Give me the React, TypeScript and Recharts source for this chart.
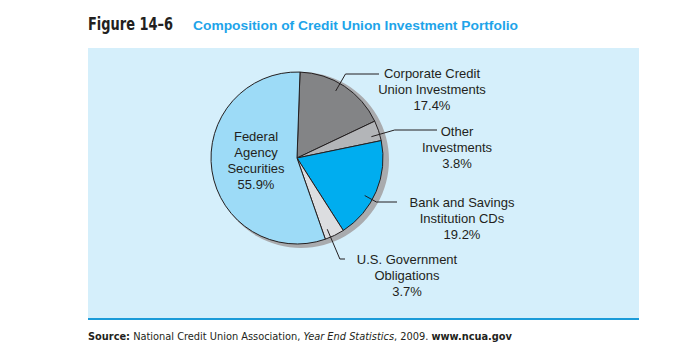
import { PieChart, Pie, Cell } from "recharts";

const names = [
  "Corporate Credit Union Investments",
  "Other Investments",
  "Bank and Savings Institution CDs",
  "U.S. Government Obligations",
  "Federal Agency Securities",
];
const shares = [17.4, 3.8, 19.2, 3.7, 55.9];
const labelLines = [
  ["Corporate Credit", "Union Investments", "17.4%"],
  ["Other", "Investments", "3.8%"],
  ["Bank and Savings", "Institution CDs", "19.2%"],
  ["U.S. Government", "Obligations", "3.7%"],
  ["Federal", "Agency", "Securities", "55.9%"],
];
const COLORS = ["#838486", "#b3b5b8", "#00adef", "#dcdde0", "#9ddbf7"];

// label placement, offsets relative to pie centre
const labelLayout = [
  { tx: 135, ty: -80, angle: 30, elbowY: -84, endX: 82 },
  { tx: 160, ty: -22, angle: 74, elbowY: -28, endX: 140 },
  { tx: 165, ty: 49, angle: 119, elbowY: 44, endX: 100 },
  { tx: 110, ty: 106, angle: 157, elbowY: 101, endX: 48 },
  { tx: -41, ty: -17, angle: null, elbowY: 0, endX: 0 },
];

const data = names.map((name, i) => ({ name, value: shares[i] }));
const shadow = [{ name: "shadow", value: 1 }];

const CX = 297;
const CY = 158;
const R = 86;
const INK = "#231f20";
const FONT = "'Liberation Sans', Arial, sans-serif";
const NARROW = "'Liberation Sans Narrow', 'DejaVu Sans Condensed', sans-serif";

function renderLabel(props: any) {
  const { cx, cy, outerRadius, index } = props;
  const lay = labelLayout[index];
  const lines = labelLines[index];
  let leader = null;
  if (lay.angle !== null) {
    const a = (lay.angle * Math.PI) / 180;
    const sx = cx + outerRadius * 0.9 * Math.sin(a);
    const sy = cy - outerRadius * 0.9 * Math.cos(a);
    const ey = cy + lay.elbowY;
    // where the leader's ray crosses the label's line height
    const ex = cx + Math.tan(a) * -lay.elbowY;
    leader = (
      <polyline
        points={`${sx},${sy} ${ex},${ey} ${cx + lay.endX},${ey}`}
        fill="none"
        stroke={INK}
        strokeWidth={1}
      />
    );
  }
  return (
    <g key={`lbl-${index}`}>
      {leader}
      <text
        x={cx + lay.tx}
        y={cy + lay.ty}
        textAnchor="middle"
        fill={INK}
        fontSize={13}
        fontFamily={FONT}>
        {lines.map((t, j) => (
          <tspan key={j} x={cx + lay.tx} dy={j === 0 ? 0 : 16}>
            {t}
          </tspan>
        ))}
      </text>
    </g>
  );
}

export default function App() {
  return (
    <div
      style={{
        position: "absolute",
        left: 0,
        top: 0,
        width: 696,
        height: 363,
        background: "#fff",
      }}>
      {/* panel */}
      <div
        style={{
          position: "absolute",
          left: 88,
          top: 48,
          width: 551,
          height: 270,
          background: "#d5effb",
          borderBottom: "2px solid #1b9bd8",
        }}
      />
      <svg
        width={696}
        height={363}
        style={{ position: "absolute", left: 0, top: 0 }}>
        <text
          x={88}
          y={30}
          fontSize={18}
          fontWeight="bold"
          fontFamily={NARROW}
          fill={INK}
          textLength={85}
          lengthAdjust="spacingAndGlyphs">
          Figure 14–6
        </text>
        <text
          x={193}
          y={30}
          fontSize={13.5}
          fontWeight="bold"
          fontFamily={FONT}
          fill="#1ea4e9"
          textLength={325}
          lengthAdjust="spacingAndGlyphs">
          Composition of Credit Union Investment Portfolio
        </text>
        <text
          x={88}
          y={340}
          fontSize={11}
          fontFamily={NARROW}
          fill={INK}
          textLength={424}
          lengthAdjust="spacingAndGlyphs">
          <tspan fontWeight="bold">Source:</tspan>
          <tspan> National Credit Union Association, </tspan>
          <tspan fontStyle="italic">Year End Statistics</tspan>
          <tspan>, 2009. </tspan>
          <tspan fontWeight="bold">www.ncua.gov</tspan>
        </text>
      </svg>
      <div style={{ position: "absolute", left: 0, top: 0 }}>
        <PieChart
          width={696}
          height={363}
          margin={{ top: 0, right: 0, bottom: 0, left: 0 }}>
          <Pie
            data={shadow}
            dataKey="value"
            cx={CX + 4}
            cy={CY + 2}
            outerRadius={R + 2}
            startAngle={90}
            endAngle={-270}
            fill="#a9abae"
            stroke="none"
            isAnimationActive={false}
          />
          <Pie
            data={data}
            dataKey="value"
            cx={CX}
            cy={CY}
            outerRadius={R}
            startAngle={88}
            endAngle={-272}
            stroke={INK}
            strokeWidth={1}
            label={renderLabel}
            labelLine={false}
            isAnimationActive={false}>
            {data.map((_, i) => (
              <Cell key={i} fill={COLORS[i]} />
            ))}
          </Pie>
        </PieChart>
      </div>
    </div>
  );
}
